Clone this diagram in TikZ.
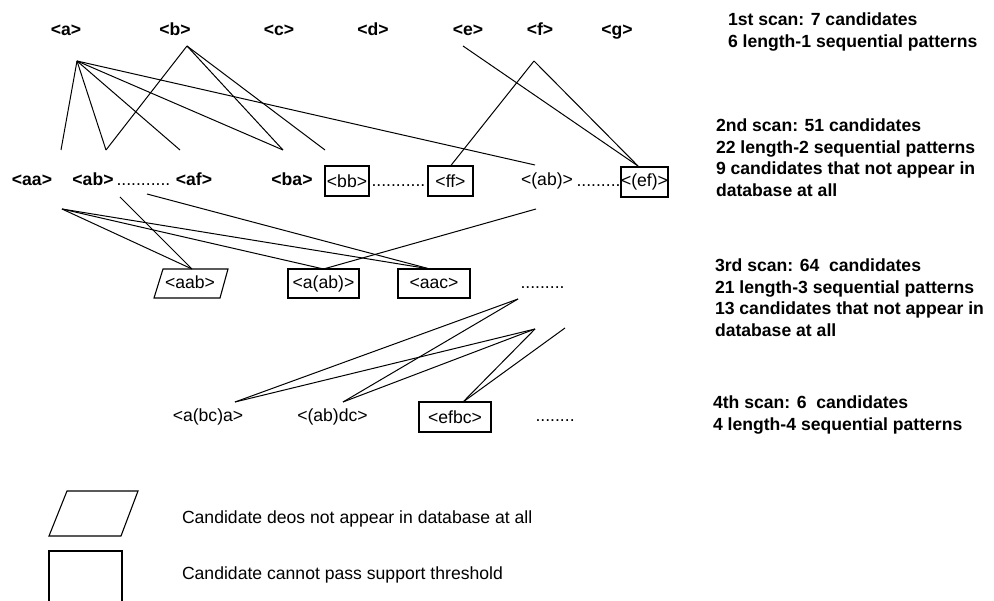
\documentclass[tikz,border=0pt]{standalone}
\usepackage{fontspec}
\setmainfont{Liberation Sans}
\newcommand\lblfont{\fontsize{17.6}{21.5}\selectfont}
\begin{document}
\begin{tikzpicture}[x=1pt,y=-1pt,
  every node/.style={inner sep=0pt, outer sep=0pt},
  lbl/.style={anchor=base, font=\lblfont},
  blbl/.style={anchor=base, font=\lblfont\bfseries},
  dotrow/.style={anchor=base west, font=\lblfont},
  cand/.style={draw, line width=1.1pt, minimum height=30pt, font=\lblfont},
  boxline/.style={line width=1.1pt, line join=miter},
  edge/.style={line width=1pt},
  note/.style={anchor=base west, align=left, font=\lblfont\bfseries},
  legtext/.style={anchor=base west, font=\lblfont}]
\useasboundingbox (0,0) rectangle (994,601);

% ---- row 1
\node[blbl] (a) at (66,36) {<a>};
\node[blbl] (b) at (175,36) {<b>};
\node[blbl] (c) at (279,36) {<c>};
\node[blbl] (d) at (373,36) {<d>};
\node[blbl] (e) at (468,36) {<e>};
\node[blbl] (f) at (540,36) {<f>};
\node[blbl] (g) at (617,36) {<g>};

% ---- row 2
\node[blbl] (aa) at (32,186) {<aa>};
\node[blbl] (ab) at (93,186) {<ab>};
\node[dotrow] (d21) at (116.5,186) {...........};
\node[blbl] (af) at (194,186) {<af>};
\node[blbl] (ba) at (292,186) {<ba>};
\node[cand, minimum width=44pt] (bb) at (347,181) {<bb>};
\node[dotrow] (d22) at (371.5,187) {...........};
\node[cand, minimum width=45pt] (ff) at (450.5,181) {<ff>};
\node[lbl] (abp) at (547,186) {<(ab)>};
\node[dotrow] (d23) at (576.5,187) {.........};
\node[cand, minimum width=47pt] (ef) at (644.5,182) {<(ef)>};

% ---- row 3
\node[lbl] (aab) at (190,289) {<aab>};
\draw[boxline] (163,269) -- (228,269) -- (220,298) -- (154,298) -- cycle;
\node[cand, minimum width=71pt, minimum height=29pt] (aabp) at (323.5,283.5) {<a(ab)>};
\node[cand, minimum width=72pt, minimum height=29pt] (aac) at (434,283.5) {<aac>};
\node[dotrow] (d3) at (520.5,289) {.........};

% ---- row 4
\node[lbl] (abca) at (208,422) {<a(bc)a>};
\node[lbl] (abdc) at (332.5,422) {<(ab)dc>};
\node[cand, minimum width=72pt] (efbc) at (455,417) {<efbc>};
\node[dotrow] (d4) at (535.5,422) {........};

% ---- connector end points
\coordinate (a1) at (77,61);
\coordinate (b1) at (187,46);
\coordinate (e1) at (463,46);
\coordinate (f1) at (534,61);
\coordinate (aaT) at (61,150);
\coordinate (abT) at (106,150);
\coordinate (afT) at (180,150);
\coordinate (baT) at (283,150);
\coordinate (bbT) at (325,150);
\coordinate (abpT) at (535,165);
\coordinate (efT) at (638,166);
\coordinate (aaB) at (62,209);
\coordinate (abB) at (120,197);
\coordinate (afB) at (147,194);
\coordinate (abpB) at (536,209);
\coordinate (aabT) at (192,269);
\coordinate (aacT) at (430,269);
\coordinate (q1) at (518,299);
\coordinate (q2) at (535,329);
\coordinate (q3) at (565,328);
\coordinate (abcaT) at (235,402);
\coordinate (abdcT) at (343,402);
\coordinate (efbcT) at (463,402);

% ---- scan 1 -> 2
\draw[edge] (a1) -- (aaT);
\draw[edge] (a1) -- (abT);
\draw[edge] (a1) -- (afT);
\draw[edge] (a1) -- (baT);
\draw[edge] (a1) -- (abpT);
\draw[edge] (b1) -- (abT);
\draw[edge] (b1) -- (baT);
\draw[edge] (b1) -- (bbT);
\draw[edge] (e1) -- (efT);
\draw[edge] (f1) -- (ff.north);
\draw[edge] (f1) -- (efT);

% ---- scan 2 -> 3
\draw[edge] (aaB) -- (aabT);
\draw[edge] (aaB) -- (aabp.north);
\draw[edge] (aaB) -- (aacT);
\draw[edge] (abB) -- (aabT);
\draw[edge] (afB) -- (aacT);
\draw[edge] (abpB) -- (aabp.north);

% ---- scan 3 -> 4
\draw[edge] (q1) -- (abcaT);
\draw[edge] (q1) -- (abdcT);
\draw[edge] (q2) -- (abcaT);
\draw[edge] (q2) -- (abdcT);
\draw[edge] (q2) -- (efbcT);
\draw[edge] (q3) -- (efbcT);

% ---- notes (base anchor = baseline of last line)
\node[note] (n1) at (728,47.5) {1st scan: 7 candidates\\6 length-1 sequential patterns};
\node[note] (n2) at (716,196.5) {2nd scan: 51 candidates\\22 length-2 sequential patterns\\9 candidates that not appear in\\database at all};
\node[note] (n3) at (715,336.5) {3rd scan: 64~ candidates\\21 length-3 sequential patterns\\13 candidates that not appear in\\database at all};
\node[note] (n4) at (713,430.5) {4th scan: 6~ candidates\\4 length-4 sequential patterns};

% ---- legend
\draw[boxline] (67,491) -- (138,491) -- (121,536) -- (49,536) -- cycle;
\draw[boxline] (49,604) -- (49,551) -- (122,551) -- (122,604);
\node[legtext] (leg1) at (182,524) {Candidate deos not appear in database at all};
\node[legtext] (leg2) at (182,579) {Candidate cannot pass support threshold};
\end{tikzpicture}
\end{document}
